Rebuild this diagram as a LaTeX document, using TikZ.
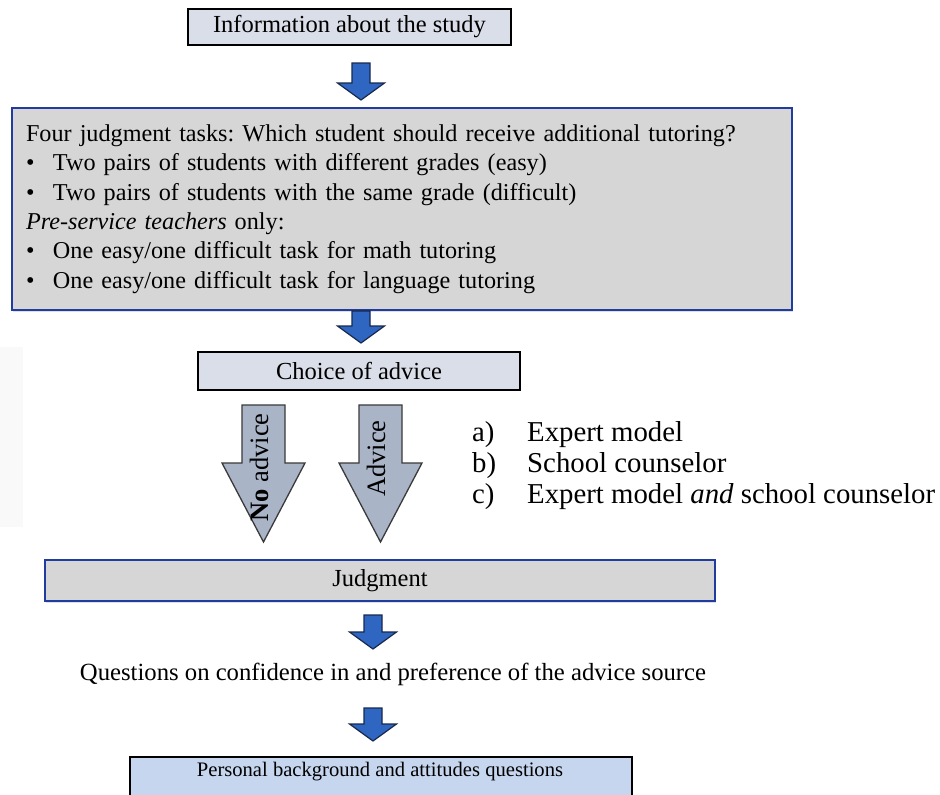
\documentclass[tikz,border=0pt]{standalone}
\usepackage{fontspec}
\setmainfont{Liberation Serif}
\frenchspacing
\usetikzlibrary{shadows}
\definecolor{lightbox}{HTML}{DADEE8}
\definecolor{graybox}{HTML}{D6D6D6}
\definecolor{bluerule}{HTML}{1F3C9E}
\definecolor{persfill}{HTML}{C6D6EE}
\definecolor{bigarrowfill}{HTML}{A9B4C7}
\definecolor{bigarrowdraw}{HTML}{3A3A3A}
\definecolor{smallarrowfill}{HTML}{2F66C1}
\definecolor{smallarrowdraw}{HTML}{18294F}
\newcommand{\smallarrow}[3]{%
  \draw[smallarr] ({#1-9},{#2}) -- ({#1+9},{#2}) -- ({#1+9},{#3-17}) -- ({#1+23.5},{#3-17})
    -- ({#1},{#3}) -- ({#1-23.5},{#3-17}) -- ({#1-9},{#3-17}) -- cycle;}
\newcommand{\bigarrow}[1]{%
  \draw[bigarr] ({#1-21.5},405) -- ({#1+21.5},405) -- ({#1+21.5},463) -- ({#1+41.5},463)
    -- ({#1},542) -- ({#1-41.5},463) -- ({#1-21.5},463) -- cycle;}
\begin{document}
\begin{tikzpicture}[x=1pt,y=-1pt,
  every node/.style={font=\fontsize{24.5}{29.4}\selectfont, inner sep=0pt},
  lightstage/.style={draw=black, line width=1.3pt, fill=lightbox},
  graystage/.style={draw=bluerule, line width=1.5pt, fill=graybox,
    drop shadow={opacity=0.25, shadow xshift=1.2pt, shadow yshift=-1.8pt}},
  smallarr/.style={draw=smallarrowdraw, line width=1.2pt, fill=smallarrowfill, line join=miter},
  bigarr/.style={draw=bigarrowdraw, line width=1.3pt, fill=bigarrowfill, line join=miter},
  listtext/.style={font=\fontsize{28.8}{31}\selectfont, anchor=base west}]
\useasboundingbox (0,0) rectangle (940,795);
\fill[white] (0,0) rectangle (940,795);
\fill[black!2.5] (0,347) rectangle (23,527);

% top box
\node[lightstage, minimum width=323pt, minimum height=36pt] (info) at (349.5,27) {Information about the study};
\smallarrow{361}{63}{100}

% big box
\node[graystage, minimum width=780pt, minimum height=202pt, text width=752pt, inner xsep=14pt, align=left,
  font=\fontsize{24.2}{29.4}\selectfont] (tasks) at (402,209)
 {Four judgment tasks: Which student should receive additional tutoring?\\
  \makebox[27pt][l]{\textbullet}Two pairs of students with different grades (easy)\\
  \makebox[27pt][l]{\textbullet}Two pairs of students with the same grade (difficult)\\
  \textit{Pre-service teachers} only:\\
  \makebox[27pt][l]{\textbullet}One easy/one difficult task for math tutoring\\
  \makebox[27pt][l]{\textbullet}One easy/one difficult task for language tutoring};
\smallarrow{361}{311}{343}

% choice box
\node[lightstage, minimum width=322pt, minimum height=38pt] (choice) at (359,371) {Choice of advice};

% big arrows
\bigarrow{263.5}
\bigarrow{380.5}
\node[rotate=90, font=\fontsize{26.5}{30}\selectfont] (noadv) at (259,467.5) {\textbf{No} advice};
\node[rotate=90, font=\fontsize{26.5}{30}\selectfont] (adv) at (376,458.5) {Advice};

% list
\node[listtext] (la) at (472,441) {a)};
\node[listtext] (lat) at (527,441) {Expert model};
\node[listtext] (lb) at (472,472) {b)};
\node[listtext] (lbt) at (527,472) {School counselor};
\node[listtext] (lc) at (472,503) {c)};
\node[listtext] (lct) at (527,503) {Expert model \textit{and} school counselor};

% judgment
\node[graystage, minimum width=670pt, minimum height=41pt] (judg) at (380,580.5) {Judgment};
\smallarrow{373}{615}{649}

\node[anchor=base, font=\fontsize{24.7}{29.4}\selectfont] (quest) at (393,680) {Questions on confidence in and preference of the advice source};
\smallarrow{373}{708}{741}

% personal
\node[draw=black, line width=1.3pt, fill=persfill, minimum width=502pt, minimum height=44pt] (pers) at (381,779) {};
\node[anchor=base, font=\fontsize{20.6}{24}\selectfont] (perstext) at (380,776) {Personal background and attitudes questions};
\end{tikzpicture}
\end{document}
